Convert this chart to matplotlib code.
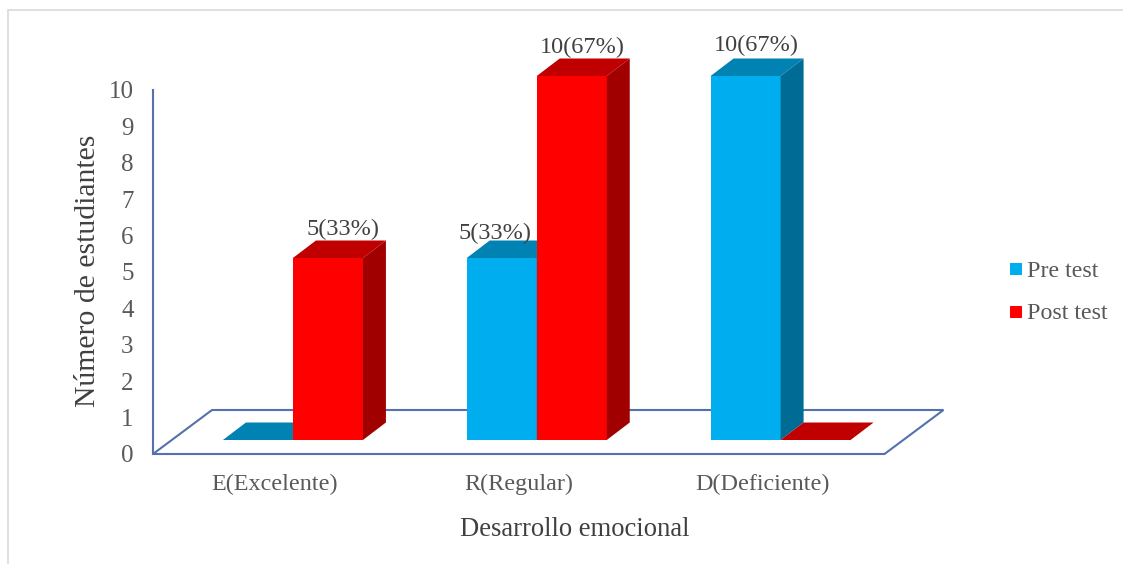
#!/usr/bin/env python3
"""Pre test / Post test bars with a fake 3D look, Desarrollo emocional."""

import matplotlib

matplotlib.use("Agg")
import matplotlib.pyplot as plt
from matplotlib.patches import Polygon, Rectangle

categories = ["E(Excelente)", "R(Regular)", "D(Deficiente)"]
pre_test = [0, 5, 10]
post_test = [5, 10, 0]
pre_labels = ["", "5(33%)", "10(67%)"]
post_labels = ["5(33%)", "10(67%)", ""]
y_ticks = list(range(0, 11))

W, H = 1123, 564
DPI = 100

# plot area in pixels
LEFT, RIGHT, TOP, BOTTOM = 153, 884.5, 90, 454
PX_X = (RIGHT - LEFT) / 3.0
PX_Y = (BOTTOM - TOP) / 10.0

BAR_W = 70 / PX_X
SHIFT = 18 / PX_X
DX = 23 / PX_X
DY = 17.5 / PX_Y
BASE = 14 / PX_Y

BLUE = ("#00AEEF", "#0082B2", "#006C96")
RED = ("#FF0000", "#C00000", "#A00000")
AXIS_BLUE = "#5470AE"
TICK_GREY = "#595959"
LABEL_GREY = "#404040"

plt.rcParams["font.family"] = ["Liberation Serif", "DejaVu Serif"]


def draw_bar(ax, x0, value, colors):
    top = BASE + value
    x1 = x0 + BAR_W
    ax.bar(x0, value, BAR_W, bottom=BASE, align="edge", color=colors[0], lw=0, zorder=3, clip_on=False)
    ax.add_patch(Polygon(
        [(x0, top), (x1, top), (x1 + DX, top + DY), (x0 + DX, top + DY)],
        closed=True, fc=colors[1], lw=0, clip_on=False, zorder=3,
    ))
    if value > 0:
        ax.add_patch(Polygon(
            [(x1, BASE), (x1 + DX, BASE + DY), (x1 + DX, top + DY), (x1, top)],
            closed=True, fc=colors[2], lw=0, clip_on=False, zorder=3,
        ))


def put_label(ax, x, value, text, off_x, off_y):
    if not text:
        return
    ax.annotate(
        text, (x, BASE + value + DY), xytext=(off_x, off_y), textcoords="offset pixels",
        ha="center", va="center", fontsize=17.5, color=LABEL_GREY, annotation_clip=False, zorder=5,
    )


def main():
    fig = plt.figure(figsize=(W / DPI, H / DPI), dpi=DPI)
    # outer chart border, only left and top fall inside the picture
    fig.add_artist(Rectangle(
        (8 / W, -0.1), 1.2, 0.1 + (H - 10) / H,
        transform=fig.transFigure, fc="none", ec="#D9D9D9", lw=1.2,
    ))
    ax = fig.add_axes([LEFT / W, (H - BOTTOM) / H, (RIGHT - LEFT) / W, (BOTTOM - TOP) / H])
    ax.patch.set_alpha(0)
    ax.set_xlim(-0.5, 2.5)
    ax.set_ylim(0, 10)

    # floor
    floor_dx = 59 / PX_X
    floor_dy = 44 / PX_Y
    ax.add_patch(Polygon(
        [(-0.5, 0), (2.5, 0), (2.5 + floor_dx, floor_dy), (-0.5 + floor_dx, floor_dy)],
        closed=True, fc="none", ec=AXIS_BLUE, lw=1.5, clip_on=False, zorder=1,
    ))

    for i in range(len(categories)):
        draw_bar(ax, i + SHIFT - BAR_W, pre_test[i], BLUE)
        draw_bar(ax, i + SHIFT, post_test[i], RED)

    put_label(ax, 0 + SHIFT + BAR_W / 2, post_test[0], post_labels[0], 15, 11)
    put_label(ax, 1 + SHIFT - BAR_W / 2, pre_test[1], pre_labels[1], -7, 7)
    put_label(ax, 1 + SHIFT + BAR_W / 2, post_test[1], post_labels[1], 11, 11)
    put_label(ax, 2 + SHIFT - BAR_W / 2, pre_test[2], pre_labels[2], 11, 13)

    for side in ("top", "right", "bottom"):
        ax.spines[side].set_visible(False)
    ax.spines["left"].set_color(AXIS_BLUE)
    ax.spines["left"].set_linewidth(1.5)

    ax.set_xticks(range(len(categories)), categories)
    ax.set_yticks(y_ticks)
    ax.tick_params(axis="y", length=0, pad=14, labelsize=18, labelcolor=TICK_GREY)
    ax.tick_params(axis="x", length=0, pad=14.5, labelsize=17.4, labelcolor=TICK_GREY)

    fig.text(88.5 / W, 1 - 271 / H, "Número de estudiantes", rotation=90, ha="center", va="center",
             fontsize=21.4, color=LABEL_GREY)
    fig.text(575 / W, 1 - 530 / H, "Desarrollo emocional", ha="center", va="center",
             fontsize=19.2, color=LABEL_GREY)

    # legend
    for name, color, y_px in (("Pre test", BLUE[0], 269.5), ("Post test", RED[0], 312)):
        fig.add_artist(Rectangle(
            (1010 / W, 1 - (y_px + 6) / H), 12 / W, 12.5 / H,
            transform=fig.transFigure, fc=color, lw=0,
        ))
        fig.text(1027 / W, 1 - (y_px + 1.5) / H, name, ha="left", va="center", fontsize=17.3, color=TICK_GREY)

    fig.savefig("out.png", dpi=DPI)
    plt.close(fig)


if __name__ == "__main__":
    main()
